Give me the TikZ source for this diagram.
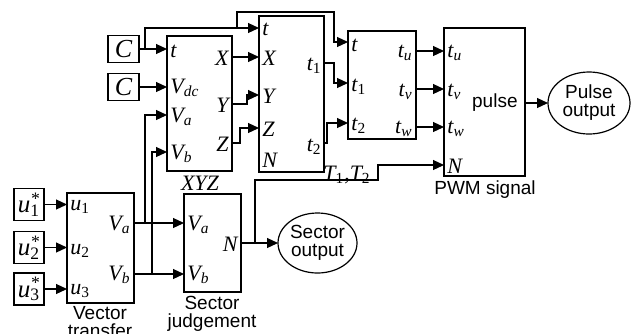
\documentclass[tikz,border=0pt]{standalone}
\usepackage{fontspec}
\setmainfont{Liberation Serif}
\setsansfont{Liberation Sans}
\usetikzlibrary{arrows.meta,shapes.geometric}
\def\pxu{0.5pt}
\newcommand\sbs[1]{\textsubscript{#1}}
\newcommand\supsb[2]{\makebox[0pt][l]{\textsuperscript{#1}}\textsubscript{#2}}
\tikzset{
  blk/.style={draw, line width=0.6pt, inner sep=0pt, outer sep=0pt},
  cbox/.style={blk, minimum width={31*\pxu}, minimum height={27*\pxu}, font=\fontsize{13}{13}\selectfont\itshape},
  ubox/.style={blk, minimum width={30*\pxu}, minimum height={32*\pxu}, font=\fontsize{12.5}{13}\selectfont\itshape},
  oval/.style={draw, ellipse, line width=0.6pt, inner sep=0pt, outer sep=0pt, align=center, font=\sffamily\fontsize{9.5}{9}\selectfont},
  wire/.style={line width=0.6pt},
  arr/.style={wire, -{Triangle[length=5.5pt,width=5pt]}},
  lab/.style={font=\fontsize{11}{13}\selectfont\itshape, inner sep=0pt},
  ll/.style={lab, anchor=base west},
  rl/.style={lab, anchor=base east},
  captxt/.style={font=\sffamily\fontsize{9.5}{9}\selectfont, align=center, inner sep=0pt},
}
\begin{document}
\begin{tikzpicture}[x=\pxu,y=-\pxu]
\clip (0,0) rectangle (632,333);
% ---------- blocks ----------
\node[cbox] (C1) at (123.5,49) {C};
\node[cbox] (C2) at (123.5,87) {C};
\node[blk, minimum width={65*\pxu}, minimum height={135*\pxu}] (xyz) at (199.5,103.5) {};
\node[blk, minimum width={65*\pxu}, minimum height={156*\pxu}] (tx) at (291.5,94) {};
\node[blk, minimum width={68*\pxu}, minimum height={108*\pxu}] (tuvw) at (382,85) {};
\node[blk, minimum width={81*\pxu}, minimum height={148*\pxu}] (pwm) at (484.5,102) {};
\node[blk, minimum width={57*\pxu}, minimum height={98*\pxu}] (sj) at (212.5,243) {};
\node[blk, minimum width={67*\pxu}, minimum height={110*\pxu}] (vt) at (100.5,248) {};
\node[ubox] (u1) at (29,204.5) {u\supsb{*}{\upshape 1}};
\node[ubox] (u2) at (29,247.5) {u\supsb{*}{\upshape 2}};
\node[ubox] (u3) at (29,289) {u\supsb{*}{\upshape 3}};
\node[oval, minimum width={82*\pxu}, minimum height={62*\pxu}] (po) at (589,103) {Pulse\\output};
\node[oval, minimum width={79*\pxu}, minimum height={60*\pxu}] (so) at (317.5,243) {Sector\\output};
% ---------- captions ----------
\node[lab] (capxyz) at (200,183) {XYZ};
\node[captxt] (cappwm) at (485,190) {PWM signal};
\node[captxt] (capsj) at (212,314) {Sector\\judgement};
\node[captxt] (capvt) at (100,322) {Vector\\transfer};
% ---------- port labels ----------
\node[ll] at (170,57) {t};
\node[ll] at (170,93) {V\sbs{dc}};
\node[ll] at (170,122) {V\sbs{a}};
\node[ll] at (170,159) {V\sbs{b}};
\node[rl] at (229,65) {X};
\node[rl] at (229,112) {Y};
\node[rl] at (229,151) {Z};
\node[ll] at (262,35) {t};
\node[ll] at (262,65) {X};
\node[ll] at (262,103) {Y};
\node[ll] at (262,136) {Z};
\node[ll] at (262,167) {N};
\node[rl] at (322,70) {t\sbs{\upshape 1}};
\node[rl] at (322,151) {t\sbs{\upshape 2}};
\node[ll] at (351,51) {t};
\node[ll] at (351,91) {t\sbs{\upshape 1}};
\node[ll] at (351,130) {t\sbs{\upshape 2}};
\node[rl] at (413,57) {t\sbs{u}};
\node[rl] at (413,96) {t\sbs{v}};
\node[rl] at (413,133) {t\sbs{w}};
\node[ll] at (447,57) {t\sbs{u}};
\node[ll] at (447,96) {t\sbs{v}};
\node[ll] at (447,133) {t\sbs{w}};
\node[ll] at (447,173) {N};
\node[captxt, anchor=base east] at (518,107) {pulse};
\node[ll] at (70,210) {u\sbs{\upshape 1}};
\node[ll] at (70,254) {u\sbs{\upshape 2}};
\node[ll] at (70,294) {u\sbs{\upshape 3}};
\node[rl] at (131,230) {V\sbs{a}};
\node[rl] at (131,280) {V\sbs{b}};
\node[ll] at (187,230) {V\sbs{a}};
\node[ll] at (187,280) {V\sbs{b}};
\node[rl] at (238,251) {N};
\node[lab, anchor=base] at (347,180) {T\sbs{\upshape 1},T\sbs{\upshape 2}};
% ---------- connectors ----------
\draw[arr] (C1.east) -- (C1.east -| xyz.west);
\draw[arr] (C2.east) -- (C2.east -| xyz.west);
\coordinate (jt) at (145,49);
\draw[arr] (jt) |- (tx.west |- 0,28);
\coordinate (jtop) at (237,28);
\draw[arr] (jtop) -- (237,12) -| (334,42) -- (tuvw.west |- 0,42);
\draw[arr] (vt.east |- 0,223) -- (sj.west |- 0,223);
\coordinate (jva) at (145,223);
\draw[arr] (jva) |- (xyz.west |- 0,115);
\draw[arr] (vt.east |- 0,274) -- (sj.west |- 0,274);
\coordinate (jvb) at (152,274);
\draw[arr] (jvb) |- (xyz.west |- 0,152);
\draw[arr] (xyz.east |- 0,57) -- (tx.west |- 0,57);
\draw[arr] (xyz.east |- 0,104) -| (247,95) -- (tx.west |- 0,95);
\draw[arr] (xyz.east |- 0,143) -| (240,128) -- (tx.west |- 0,128);
\draw[arr] (tx.east |- 0,63) -| (334,83) -- (tuvw.west |- 0,83);
\draw[arr] (tx.east |- 0,143) -| (327,123) -- (tuvw.west |- 0,123);
\foreach \yy in {51,89,127} \draw[arr] (tuvw.east |- 0,\yy) -- (pwm.west |- 0,\yy);
\draw[arr] (pwm.east |- po.west) -- (po.west);
\draw[arr] (sj.east) -- (so.west);
\coordinate (jn) at (255,243);
\draw[arr] (jn) |- (378,180) |- (pwm.west |- 0,165);
\foreach \uu in {u1,u2,u3} \draw[arr] (\uu.east) -- (\uu.east -| vt.west);
\end{tikzpicture}
\end{document}
